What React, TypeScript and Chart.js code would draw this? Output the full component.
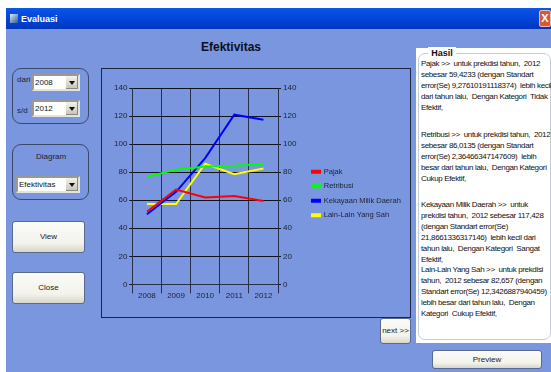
import React, { useEffect, useRef } from "react";
import { Chart, registerables } from "chart.js";

Chart.register(...registerables);

const years = ["2008", "2009", "2010", "2011", "2012"];
const pajak = [51.8, 67.6, 62, 63, 59.42];
const retribusi = [76.8, 81.8, 84, 84.5, 86.01];
const kekayaan = [50, 66, 90, 121, 117.43];
const lainLain = [57.3, 57.3, 86, 78.5, 82.66];

const FONT = "'Liberation Sans', Arial, sans-serif";
const PANEL = "#7a96de";

const resultBlocks: { top: number; lines: string[] }[] = [
  {
    top: 59,
    lines: [
      "Pajak >>  untuk prekdisi tahun,  2012",
      "sebesar 59,4233 (dengan Standart",
      "error(Se) 9,27610191118374)  lebih kecil",
      "dari tahun lalu,  Dengan Kategori  Tidak",
      "Efektif,",
    ],
  },
  {
    top: 130,
    lines: [
      "Retribusi >>  untuk prekdisi tahun,  2012",
      "sebesar 86,0135 (dengan Standart",
      "error(Se) 2,36466347147609)  lebih",
      "besar dari tahun lalu,  Dengan Kategori",
      "Cukup Efektif,",
    ],
  },
  {
    top: 200,
    lines: [
      "Kekayaan Milik Daerah >>  untuk",
      "prekdisi tahun,  2012 sebesar 117,428",
      "(dengan Standart error(Se)",
      "21,8661336317146)  lebih kecil dari",
      "tahun lalu,  Dengan Kategori  Sangat",
      "Efektif,",
    ],
  },
  {
    top: 265,
    lines: [
      "Lain-Lain Yang Sah >>  untuk prekdisi",
      "tahun,  2012 sebesar 82,657 (dengan",
      "Standart error(Se) 12,3426887940459)",
      "lebih besar dari tahun lalu,  Dengan",
      "Kategori  Cukup Efektif,",
    ],
  },
];

const box = (
  left: number,
  top: number,
  width: number,
  height: number,
  extra: React.CSSProperties = {},
): React.CSSProperties => ({
  position: "absolute",
  left,
  top,
  width,
  height,
  boxSizing: "border-box",
  ...extra,
});

function Label({ x, y, text, size = 8 }: { x: number; y: number; text: string; size?: number }) {
  return (
    <div style={box(x, y, 70, 12, { fontSize: size, lineHeight: "12px", color: "#1c2233", whiteSpace: "pre" })}>
      {text}
    </div>
  );
}

function Combo({ x, y, w, text }: { x: number; y: number; w: number; text: string }) {
  return (
    <div
      style={box(x, y, w, 17, {
        background: "#fff",
        border: "2px solid #9a9a8e",
        borderRightColor: "#e4e4dc",
        borderBottomColor: "#e4e4dc",
        fontSize: 8,
        lineHeight: "13px",
        paddingLeft: 1,
        color: "#111",
      })}
    >
      {text}
      <div
        style={box(w - 16, 0, 12, 13, {
          background: "linear-gradient(#f4f3ec,#c9c7b6)",
          borderRight: "1px solid #888",
          borderBottom: "1px solid #888",
        })}
      >
        <div
          style={{
            position: "absolute",
            left: 3,
            top: 5,
            width: 0,
            height: 0,
            borderLeft: "3px solid transparent",
            borderRight: "3px solid transparent",
            borderTop: "4px solid #111",
          }}
        />
      </div>
    </div>
  );
}

function Button({ x, y, w, h, text }: { x: number; y: number; w: number; h: number; text: string }) {
  return (
    <div
      style={box(x, y, w, h, {
        background: "linear-gradient(#fbfbf8 0%,#f3f2ec 70%,#d8d6c8 100%)",
        border: "1px solid #5a6a8c",
        borderRadius: 3,
        fontSize: 8,
        color: "#222",
        textAlign: "center",
        whiteSpace: "nowrap",
        lineHeight: `${h - 2}px`,
      })}
    >
      {text}
    </div>
  );
}

export default function App() {
  const canvasRef = useRef<HTMLCanvasElement>(null);

  useEffect(() => {
    if (!canvasRef.current) return;
    const makeSeries = (label: string, data: number[], color: string) => ({
      label,
      data,
      borderColor: color,
      backgroundColor: color,
      borderWidth: 2,
      pointRadius: 0,
      tension: 0,
      fill: false,
    });
    const chart = new Chart(canvasRef.current, {
      type: "line",
      data: {
        labels: years,
        datasets: [
          makeSeries("Pajak", pajak, "#ff0000"),
          makeSeries("Retribusi", retribusi, "#00ff00"),
          makeSeries("Kekayaan Milik Daerah", kekayaan, "#0000ff"),
          makeSeries("Lain-Lain Yang Sah", lainLain, "#ffff00"),
        ],
      },
      options: {
        animation: false,
        responsive: false,
        layout: { padding: { left: 10, right: 2, top: 19, bottom: 18 } },
        plugins: {
          title: { display: false },
          tooltip: { enabled: false },
          legend: {
            position: "right",
            maxWidth: 103,
            labels: {
              boxWidth: 8,
              boxHeight: 2,
              padding: 7,
              color: "#1c2233",
              font: { family: FONT, size: 7.5 },
            },
          },
        },
        scales: {
          x: {
            offset: true,
            ticks: { color: "#1c2233", font: { family: FONT, size: 8 }, padding: -2, maxRotation: 0 },
            grid: { color: "#27304a", lineWidth: 1, tickLength: 9, offset: true },
            border: { color: "#27304a" },
          },
          y: {
            position: "left",
            min: 0,
            max: 140,
            ticks: { stepSize: 20, color: "#1c2233", font: { family: FONT, size: 8 }, padding: 2 },
            grid: { color: "#10131f", lineWidth: 1, tickLength: 3 },
            border: { color: "#27304a" },
          },
          y2: {
            position: "right",
            min: 0,
            max: 140,
            afterFit: (scale) => {
              scale.width = 27;
            },
            ticks: { stepSize: 20, color: "#1c2233", font: { family: FONT, size: 8 }, padding: 2 },
            grid: { drawOnChartArea: false, color: "#10131f", tickLength: 3 },
            border: { color: "#27304a" },
          },
        },
      },
    });
    return () => chart.destroy();
  }, []);

  return (
    <div
      style={{
        position: "fixed",
        left: 0,
        top: 0,
        width: 551,
        height: 372,
        overflow: "hidden",
        background: "#fff",
        fontFamily: FONT,
      }}
    >
      {/* window client area */}
      <div style={box(6, 8, 545, 364, { background: PANEL })} />

      {/* title bar */}
      <div
        style={box(6, 8, 545, 21, {
          background: "linear-gradient(#0a5ce8 0%,#0a4fe0 15%,#0042d8 60%,#0037b8 100%)",
        })}
      />
      <div style={box(10, 14, 8, 9, { background: "linear-gradient(135deg,#dfe9ff,#2a5f8a)" })} />
      <div
        style={box(21, 12, 60, 14, {
          color: "#fff",
          fontSize: 9,
          fontWeight: 700,
          lineHeight: "14px",
        })}
      >
        Evaluasi
      </div>
      <div
        style={box(539, 10, 12, 17, {
          background: "#d9583a",
          border: "1px solid #f0b8a8",
          borderRadius: 2,
          color: "#fff",
          fontSize: 11,
          fontWeight: 700,
          textAlign: "center",
          lineHeight: "15px",
        })}
      >
        X
      </div>

      <div
        style={box(150, 39, 162, 16, {
          fontSize: 12,
          fontWeight: 700,
          color: "#0a0f22",
          textAlign: "center",
          lineHeight: "16px",
        })}
      >
        Efektivitas
      </div>

      {/* period selector */}
      <div style={box(12, 68, 77, 56, { border: "1px solid #3c4a6a", borderRadius: 9 })} />
      <Label x={17} y={74} text="dari" />
      <Label x={17} y={105} text="s/d" />
      <Combo x={32} y={74} w={48} text="2008" />
      <Combo x={32} y={100} w={48} text="2012" />

      {/* diagram selector */}
      <div style={box(12, 144, 77, 56, { border: "1px solid #3c4a6a", borderRadius: 9 })} />
      <Label x={36} y={151} text="Diagram" />
      <Combo x={16} y={176} w={64} text="Efektivitas" />

      <Button x={12} y={221} w={73} h={32} text="View" />
      <Button x={12} y={272} w={73} h={32} text="Close" />

      {/* chart panel */}
      <div style={box(101, 68, 310, 250, { border: "1px solid #1c2440" })} />
      <canvas
        ref={canvasRef}
        width={308}
        height={248}
        style={{ position: "absolute", left: 102, top: 69, width: 308, height: 248 }}
      />

      <Button x={380} y={318} w={31} h={26} text="next >>" />

      {/* results panel */}
      <div style={box(416, 48, 135, 295, { background: "#fff" })} />
      <div
        style={box(418, 53, 133, 287, {
          border: "1px solid #c8ccd4",
          borderRadius: 7,
        })}
      />
      <div
        style={box(428, 47, 28, 12, {
          background: "#fff",
          fontSize: 9,
          fontWeight: 700,
          color: "#111",
          lineHeight: "12px",
          textAlign: "center",
        })}
      >
        Hasil
      </div>
      {resultBlocks.map((block) => (
        <div
          key={block.top}
          style={box(421, block.top, 130, block.lines.length * 10.9, {
            fontSize: 8,
            letterSpacing: "-0.35px",
            lineHeight: "10.9px",
            color: "#111",
            whiteSpace: "pre",
          })}
        >
          {block.lines.join("\n")}
        </div>
      ))}

      <Button x={432} y={350} w={110} h={19} text="Preview" />
    </div>
  );
}
